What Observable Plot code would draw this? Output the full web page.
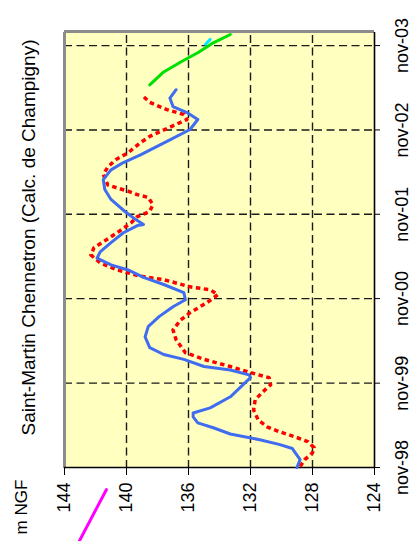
<!DOCTYPE html>
<html>
<head>
<meta charset="utf-8">
<script src="https://cdn.jsdelivr.net/npm/d3@7"></script>
<script src="https://cdn.jsdelivr.net/npm/@observablehq/plot@0.6"></script>
<style>
  html, body { margin: 0; padding: 0; background: #fff; overflow: hidden; }
  #page { position: relative; width: 414px; height: 541px; overflow: hidden; }
  #chart { position: absolute; left: 0; top: 0; width: 541px; height: 414px;
           transform-origin: 0 0; transform: translate(0px, 541px) rotate(-90deg); }
  #chart svg { font-family: "Liberation Sans", Arial, sans-serif; }
</style>
</head>
<body>
<div id="page"><div id="chart"></div></div>
<script>
// ---- data (dates, m NGF) ----
const titleText = "Saint-Martin Chennetron (Calc. de Champigny)";
const unitText = "m NGF";
const valueTicks = [124, 128, 132, 136, 140, 144];
const dateTicks = ["1998-11-01", "1999-11-01", "2000-11-01", "2001-11-01", "2002-11-01", "2003-11-01"];

const blueDates = ["1998-11-01","1998-12-05","1999-01-22","1999-02-08","1999-03-01","1999-03-26","1999-04-22","1999-05-13","1999-06-08","1999-06-25","1999-07-17","1999-09-03","1999-11-25","1999-12-07","1999-12-28","2000-01-12","2000-02-12","2000-03-04","2000-04-03","2000-05-19","2000-07-03","2000-08-15","2000-09-27","2000-10-27","2000-11-27","2001-01-01","2001-02-01","2001-03-05","2001-03-27","2001-04-25","2001-05-22","2001-07-01","2001-08-13","2001-09-13","2001-09-18","2001-10-09","2001-11-13","2002-01-04","2002-02-16","2002-03-31","2002-05-12","2002-06-13","2002-07-16","2002-09-19","2002-11-03","2002-12-16","2003-01-15","2003-02-10","2003-03-19","2003-04-24"];
const blueValues = [129.0,128.8,129.3,130.1,131.4,133.3,134.4,135.4,135.7,135.7,134.6,133.3,132.0,132.1,133.3,135.0,136.3,137.6,138.5,138.8,138.6,137.9,137.0,136.2,136.3,137.6,138.9,139.9,141.0,141.9,141.7,141.0,140.2,139.3,138.9,139.4,140.1,141.0,141.4,141.5,141.0,140.2,139.1,137.2,135.9,135.4,136.1,137.0,137.2,136.8];

const redDates = ["1998-11-05","1998-12-05","1999-01-04","1999-01-26","1999-02-21","1999-03-13","1999-04-04","1999-04-25","1999-05-25","1999-07-08","1999-08-21","1999-09-25","1999-10-25","1999-11-25","1999-12-07","2000-01-12","2000-02-12","2000-03-12","2000-05-07","2000-06-19","2000-08-01","2000-09-01","2000-10-15","2000-11-18","2000-12-09","2000-12-22","2001-01-22","2001-02-06","2001-03-05","2001-04-05","2001-05-09","2001-06-09","2001-08-13","2001-09-25","2001-10-22","2001-11-13","2001-12-13","2002-01-13","2002-01-25","2002-02-09","2002-03-07","2002-04-22","2002-05-25","2002-06-25","2002-07-25","2002-09-07","2002-10-04","2002-11-13","2002-12-16","2003-01-07","2003-01-28","2003-02-28","2003-03-25"];
const redValues = [128.8,128.5,128.0,127.9,128.3,129.1,130.1,130.9,131.5,131.8,131.7,131.2,130.7,130.8,131.5,133.3,135.0,136.2,136.8,137.0,136.5,135.9,134.8,134.1,134.6,135.9,137.6,139.1,140.6,141.7,142.3,142.1,140.6,139.7,139.3,138.5,138.3,138.6,139.3,139.9,141.2,141.5,141.2,140.7,139.9,139.1,138.5,137.2,136.1,136.3,137.4,138.5,138.9];

const greenDates = ["2003-05-15","2003-07-10","2003-08-22","2003-10-01","2003-11-13","2003-12-19"];
const greenValues = [138.5,137.6,136.5,135.4,134.4,133.3];

const cyanDates = ["2003-11-07","2003-11-28"];
const cyanValues = [134.9,134.6];

const magentaDates = ["1998-07-28","1997-11-15"];
const magentaValues = [141.3,143.3];

const domainStart = "1998-11-01";
const domainEnd = "2004-01-01";

// ---- build ----
const P = s => new Date(s + "T00:00:00Z");
const toRows = (ds, vs) => ds.map((d, i) => ({date: P(d), value: vs[i]}));
const blue = toRows(blueDates, blueValues);
const red = toRows(redDates, redValues);
const green = toRows(greenDates, greenValues);
const cyan = toRows(cyanDates, cyanValues);
const magenta = toRows(magentaDates, magentaValues);
const dTicks = dateTicks.map(P);
const x0 = P(domainStart), x1 = P(domainEnd);
const fmt = d3.utcFormat("%b-%y");

const gridY = valueTicks.filter(v => v !== 124 && v !== 144);
const gridX = dTicks.filter(d => +d !== +x0);

const chart = Plot.plot({
  width: 541,
  height: 414,
  marginLeft: 73,
  marginRight: 32,
  marginTop: 64,
  marginBottom: 40,
  style: {fontFamily: "Liberation Sans, Arial, sans-serif", background: "transparent", color: "#000"},
  x: {type: "utc", domain: [x0, x1], label: null},
  y: {domain: [124, 144], label: null},
  marks: [
    Plot.frame({fill: "#ffffc0", stroke: "none"}),
    Plot.ruleY(gridY, {stroke: "#1a1a1a", strokeWidth: 1.4, strokeDasharray: "8,4.5"}),
    Plot.ruleX(gridX, {stroke: "#1a1a1a", strokeWidth: 1.4, strokeDasharray: "8,4.5"}),
    Plot.ruleY([144], {stroke: "#8c8c8c", strokeWidth: 3}),
    Plot.ruleX([x1], {stroke: "#8c8c8c", strokeWidth: 3}),
    Plot.ruleX([x0], {stroke: "#000", strokeWidth: 1.6}),
    Plot.ruleY([124], {stroke: "#000", strokeWidth: 1.6}),
    Plot.line(red, {x: "date", y: "value", stroke: "#ff0000", strokeWidth: 3.5, strokeDasharray: "4.5,3.5", strokeLinecap: "butt"}),
    Plot.line(blue, {x: "date", y: "value", stroke: "#3f6cf0", strokeWidth: 3}),
    Plot.line(green, {x: "date", y: "value", stroke: "#00e000", strokeWidth: 3}),
    Plot.line(cyan, {x: "date", y: "value", stroke: "#00e8ff", strokeWidth: 3}),
    Plot.line(magenta, {x: "date", y: "value", stroke: "#ff00ff", strokeWidth: 3, clip: false}),
    Plot.axisX({ticks: dTicks, tickFormat: d => fmt(d).toLowerCase(), tickSize: 6, tickPadding: 15, fontSize: 18, stroke: "#000", label: null}),
    Plot.axisY({ticks: valueTicks, tickSize: 7, tickPadding: 8, fontSize: 18, stroke: "#000", label: null}),
    Plot.text([titleText], {frameAnchor: "top", dx: 12, dy: -36, lineAnchor: "middle", textAnchor: "middle", fontSize: 19, fill: "#000"}),
    Plot.text([unitText], {frameAnchor: "top-left", dx: -67, dy: -43, lineAnchor: "middle", textAnchor: "start", fontSize: 17, fill: "#000"})
  ]
});
document.getElementById("chart").appendChild(chart);
</script>
</body>
</html>
